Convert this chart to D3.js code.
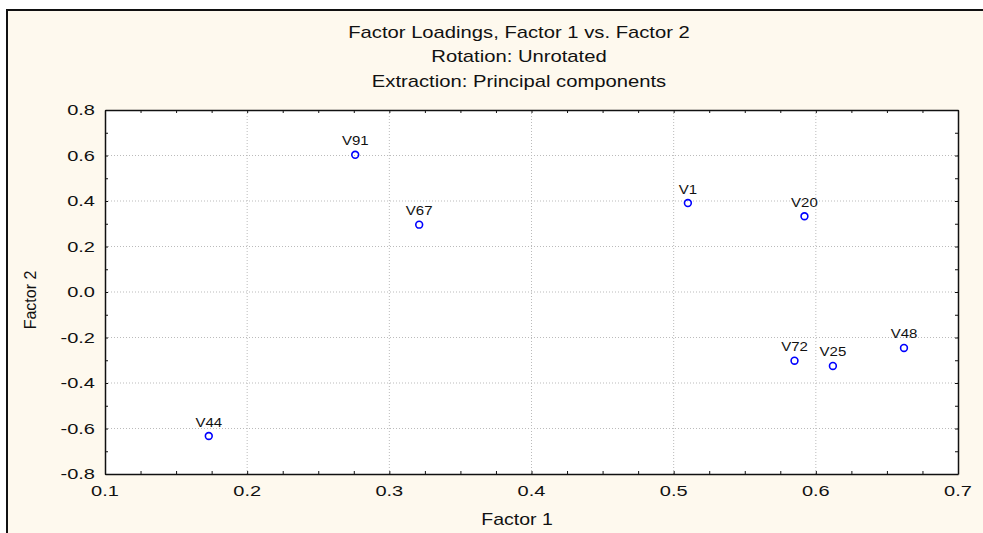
<!DOCTYPE html>
<html>
<head>
<meta charset="utf-8">
<script src="https://cdn.jsdelivr.net/npm/d3@7"></script>
<style>
body { margin: 0; background: #fff; }
svg { display: block; }
</style>
</head>
<body>
<svg width="983" height="533"></svg>
<script>
// variable names and loadings (factor 1, factor 2)
var names = ["V1", "V20", "V25", "V44", "V48", "V67", "V72", "V91"];
var factor1 = [0.510, 0.592, 0.612, 0.173, 0.662, 0.321, 0.585, 0.276];
var factor2 = [0.391, 0.333, -0.325, -0.633, -0.246, 0.296, -0.302, 0.603];

var titleLines = ["Factor Loadings, Factor 1 vs. Factor 2", "Rotation: Unrotated", "Extraction: Principal components"];
var xTicks = [0.1, 0.2, 0.3, 0.4, 0.5, 0.6, 0.7];
var yTicks = [-0.8, -0.6, -0.4, -0.2, 0.0, 0.2, 0.4, 0.6, 0.8];

var pLeft = 105, pRight = 958, pTop = 110, pBottom = 474;

var xs = d3.scaleLinear().domain([0.1, 0.7]).range([pLeft, pRight]);
var ys = d3.scaleLinear().domain([-0.8, 0.8]).range([pBottom, pTop]);

var svg = d3.select('svg');

// cream frame
svg.append('rect')
  .attr('x', 7).attr('y', 10).attr('width', 990).attr('height', 540)
  .attr('fill', '#fef9ee').attr('stroke', '#111').attr('stroke-width', 2);

// plot area
svg.append('rect')
  .attr('x', pLeft).attr('y', pTop).attr('width', pRight - pLeft).attr('height', pBottom - pTop)
  .attr('fill', '#fff');

// text drawn a bit wider than normal, like the original
function wideText(g, str, x, y, sx, size, anchor) {
  return g.append('text')
    .attr('transform', 'translate(' + x + ',' + y + ') scale(' + sx + ',1)')
    .attr('text-anchor', anchor)
    .attr('font-family', 'Liberation Sans, Arial, sans-serif')
    .attr('font-size', size)
    .attr('fill', '#111')
    .text(str);
}

// grid
svg.append('g').selectAll('line')
  .data(xTicks.slice(1, -1)).enter().append('line')
  .attr('x1', function(d) { return xs(d); }).attr('x2', function(d) { return xs(d); })
  .attr('y1', pTop).attr('y2', pBottom)
  .attr('stroke', '#bbb').attr('stroke-dasharray', '1,2');
svg.append('g').selectAll('line')
  .data(yTicks.slice(1, -1)).enter().append('line')
  .attr('y1', function(d) { return ys(d); }).attr('y2', function(d) { return ys(d); })
  .attr('x1', pLeft).attr('x2', pRight)
  .attr('stroke', '#bbb').attr('stroke-dasharray', '1,2');

// inward ticks on all four sides
var xMinor = d3.range(0.1, 0.7001, 0.025);
var yMinor = d3.range(-0.8, 0.8001, 0.1);
svg.append('g').attr('transform', 'translate(0,' + pBottom + ')')
  .call(d3.axisBottom(xs).tickValues(xMinor).tickSize(-3).tickSizeOuter(0).tickFormat(''));
svg.append('g').attr('transform', 'translate(0,' + pTop + ')')
  .call(d3.axisTop(xs).tickValues(xMinor).tickSize(-3).tickSizeOuter(0).tickFormat(''));
svg.append('g').attr('transform', 'translate(' + pLeft + ',0)')
  .call(d3.axisLeft(ys).tickValues(yMinor).tickSize(-3).tickSizeOuter(0).tickFormat(''));
svg.append('g').attr('transform', 'translate(' + pRight + ',0)')
  .call(d3.axisRight(ys).tickValues(yMinor).tickSize(-3).tickSizeOuter(0).tickFormat(''));
svg.selectAll('.domain').attr('stroke', '#111').attr('stroke-width', 1.5);
svg.selectAll('.tick line').attr('stroke', '#111');

// tick labels
var lab = svg.append('g');
xTicks.forEach(function(d) {
  wideText(lab, d3.format('.1f')(d), xs(d), 496, 1.38, 14.5, 'middle');
});
yTicks.forEach(function(d) {
  wideText(lab, d3.format('.1f')(d).replace('−', '-'), 95, ys(d) + 5, 1.38, 14.5, 'end');
});

// titles
titleLines.forEach(function(t, i) {
  wideText(svg, t, 519, 37.5 + i * 24.5, 1.19, 17, 'middle');
});
wideText(svg, 'Factor 1', 517, 525, 1.22, 16, 'middle');
svg.append('text')
  .attr('transform', 'translate(36,300) rotate(-90)')
  .attr('text-anchor', 'middle')
  .attr('font-family', 'Liberation Sans, Arial, sans-serif')
  .attr('font-size', 16).attr('fill', '#111')
  .text('Factor 2');

// points
var pts = svg.append('g').selectAll('g')
  .data(names).enter().append('g');
pts.append('circle')
  .attr('cx', function(d, i) { return xs(factor1[i]); })
  .attr('cy', function(d, i) { return ys(factor2[i]); })
  .attr('r', 3.4)
  .attr('fill', 'none').attr('stroke', '#0000ff').attr('stroke-width', 1.6);
pts.each(function(d, i) {
  wideText(d3.select(this), d, xs(factor1[i]), ys(factor2[i]) - 9.5, 1.25, 12, 'middle');
});
</script>
</body>
</html>
